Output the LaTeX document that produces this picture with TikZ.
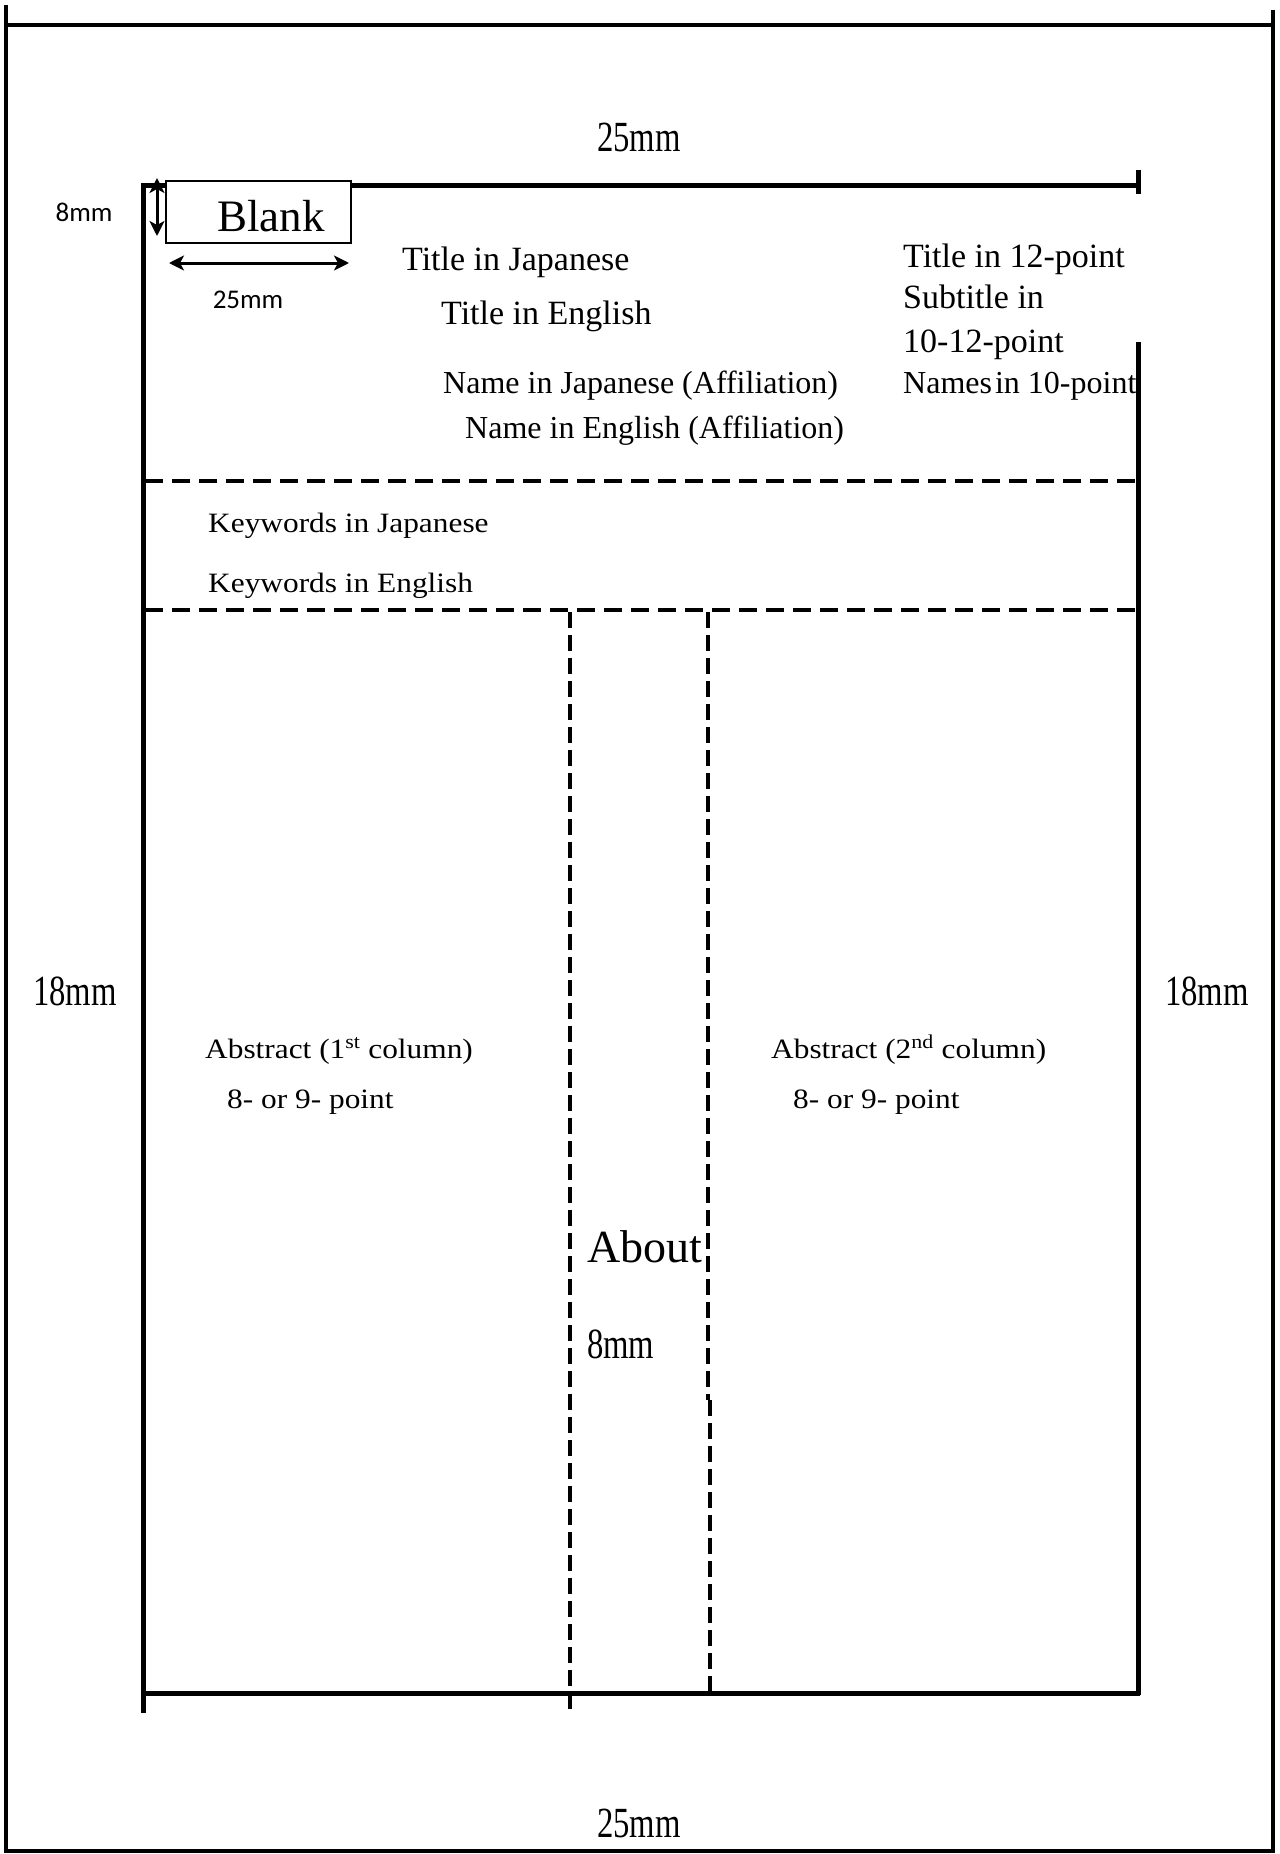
\documentclass[tikz,border=0pt]{standalone}
\usepackage{fontspec}
\setmainfont{Liberation Serif}
\newfontfamily\kwfont[FakeStretch=1.12]{Liberation Serif}
\newfontfamily\minfont[FakeStretch=0.76]{Liberation Serif}
\newfontfamily\sansf{Carlito}
\usetikzlibrary{arrows.meta}
\begin{document}
\begin{tikzpicture}[x=1pt,y=-1pt,
  solidline/.style={line width=5pt},
  outerline/.style={line width=4.5pt},
  dashh/.style={line width=4pt, dash pattern=on 18pt off 9pt},
  dashv/.style={line width=4pt, dash pattern=on 16pt off 7pt},
  lbl/.style={inner sep=0pt, anchor=base west},
  ttl/.style={lbl, font=\fontsize{34}{40}\selectfont},
  nm/.style={lbl, font=\fontsize{32}{38}\selectfont},
  kw/.style={lbl, font=\kwfont\fontsize{28}{32}\selectfont},
  mmlbl/.style={lbl, font=\minfont\fontsize{43}{48}\selectfont},
  sl/.style={inner sep=0pt, font=\sansf\fontsize{27}{32}\selectfont},
  dimarrow/.style={line width=3pt, {Stealth[length=15pt,width=15pt,inset=4pt]}-{Stealth[length=15pt,width=15pt,inset=4pt]}}
]
\useasboundingbox (0,0) rectangle (1279,1854);

% outer frame
\draw[outerline] (6,5) -- (6,1851);
\draw[outerline] (1273,10) -- (1273,1851);
\draw[outerline] (4,25) -- (1275,25);
\draw[outerline] (4,1851) -- (1275,1851);

% inner frame
\draw[solidline] (143,183) -- (143,1713);
\draw[solidline] (141,186) -- (1138,186);
\draw[solidline] (1138,170) -- (1138,194);
\draw[solidline] (1138,342) -- (1138,1695);
\draw[solidline] (145,1693) -- (1140,1693);

% dashed lines
\draw[dashh] (145,481) -- (1136,481);
\draw[dashh] (145,610) -- (1136,610);
\draw[dashv] (570,612) -- (570,1712);
\draw[dashv] (708,612) -- (708,1400);
\draw[dashv] (710,1400) -- (710,1691);

% blank box
\node[draw, line width=2pt, fill=white, minimum width=185pt, minimum height=62pt, inner sep=0pt] (blankbox) at (258.5,212) {};
\node[lbl, font=\fontsize{45}{50}\selectfont] (blanktxt) at (217,231) {Blank};

% dimension arrows
\coordinate (va1) at (157,178);
\coordinate (va2) at (157,236);
\draw[dimarrow] (va1) -- (va2);
\coordinate (ha1) at (169,263);
\coordinate (ha2) at (349,263);
\draw[dimarrow] (ha1) -- (ha2);

% sans labels
\node[sl] (l8) at (84,212) {8mm};
\node[sl] (l25) at (248,300) {25mm};

% margin labels
\node[mmlbl] (top25) at (597,152) {25mm};
\node[mmlbl] (bot25) at (597,1837) {25mm};
\node[mmlbl] (left18) at (33,1005) {18mm};
\node[mmlbl] (right18) at (1165,1005) {18mm};
\node[mmlbl] (mid8) at (587,1358) {8mm};
\node[lbl, font=\fontsize{46}{50}\selectfont] (about) at (587,1262) {About};

% titles
\node[ttl] (tj) at (402,270) {Title in Japanese};
\node[ttl] (te) at (441,324) {Title in English};
\node[nm] (nj) at (443,393) {Name in Japanese (Affiliation)};
\node[nm] (ne) at (465,438) {Name in English (Affiliation)};
\node[ttl] (r1) at (903,267) {Title in 12-point};
\node[ttl] (r2) at (903,308) {Subtitle in};
\node[ttl] (r3) at (903,352) {10-12-point};
\node[nm] (r4) at (903,393) {Names\hspace{3pt}in 10-point};

% keywords
\node[kw] (kj) at (208,532) {Keywords in Japanese};
\node[kw] (ke) at (208,592) {Keywords in English};

% abstracts
\node[kw] (a1) at (205,1058) {Abstract (1\textsuperscript{st} column)};
\node[kw] (p1) at (227,1108) {8- or 9- point};
\node[kw] (a2) at (771,1058) {Abstract (2\textsuperscript{nd} column)};
\node[kw] (p2) at (793,1108) {8- or 9- point};
\end{tikzpicture}
\end{document}
